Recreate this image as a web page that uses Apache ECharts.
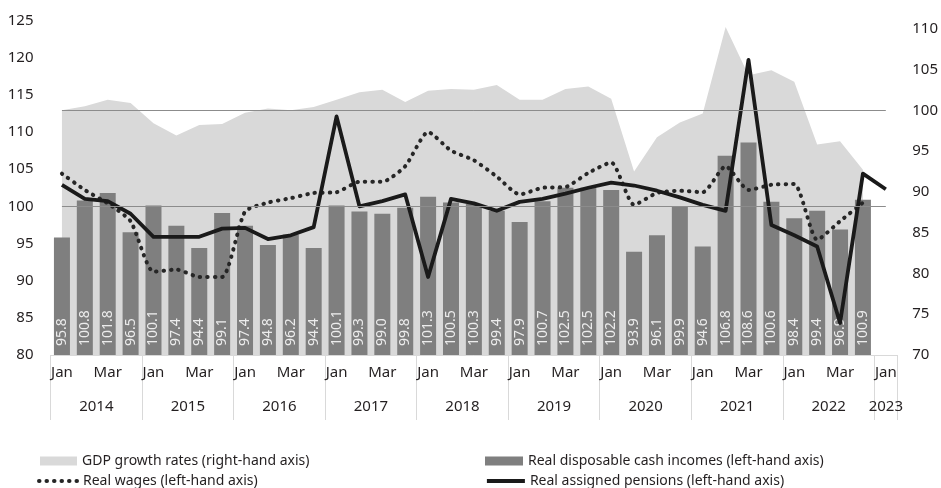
<!DOCTYPE html>
<html>
<head>
<meta charset="utf-8">
<script src="https://cdn.jsdelivr.net/npm/echarts@6/dist/echarts.min.js"></script>
<style>
  html, body { margin: 0; padding: 0; background: #fff; }
  #chart { width: 941px; height: 488px; }
</style>
</head>
<body>
<div id="chart"></div>
<script>
// quarters 2014 Q1 .. 2023 Q1
var years = ['2014', '2015', '2016', '2017', '2018', '2019', '2020', '2021', '2022', '2023'];
var quarterNames = ['Jan', '', 'Mar', ''];

// real disposable cash incomes, % (left axis)
var incomes = [
  95.8, 100.8, 101.8, 96.5,
  100.1, 97.4, 94.4, 99.1,
  97.4, 94.8, 96.2, 94.4,
  100.1, 99.3, 99.0, 99.8,
  101.3, 100.5, 100.3, 99.4,
  97.9, 100.7, 102.5, 102.5,
  102.2, 93.9, 96.1, 99.9,
  94.6, 106.8, 108.6, 100.6,
  98.4, 99.4, 96.9, 100.9,
  null
];

// GDP growth rates, % (right axis)
var gdp = [
  100.0, 100.5, 101.3, 100.9,
  98.4, 96.9, 98.2, 98.3,
  99.7, 100.2, 100.0, 100.4,
  101.3, 102.2, 102.5, 101.0,
  102.4, 102.6, 102.5, 103.1,
  101.3, 101.3, 102.6, 102.9,
  101.4, 92.5, 96.7, 98.5,
  99.6, 110.2, 104.3, 104.9,
  103.5, 95.8, 96.2, 92.7,
  null
];

// real wages, % (left axis)
var wages = [
  104.4, 102.2, 100.4, 98.0,
  91.2, 91.5, 90.5, 90.5,
  99.3, 100.5, 101.1, 101.8,
  101.9, 103.3, 103.3, 105.4,
  110.0, 107.5, 106.2, 104.0,
  101.6, 102.5, 102.6, 104.5,
  105.9, 100.2, 101.8, 102.1,
  101.9, 105.4, 102.2, 102.9,
  103.0, 95.5, 98.0, 100.5,
  null
];

// real assigned pensions, % (left axis)
var pensions = [
  102.9, 101.0, 100.7, 99.0,
  95.9, 95.9, 95.9, 97.0,
  97.1, 95.6, 96.1, 97.2,
  112.1, 100.0, 100.7, 101.6,
  90.5, 101.0, 100.4, 99.4,
  100.6, 101.0, 101.7, 102.5,
  103.2, 102.8, 102.1, 101.2,
  100.2, 99.4, 119.7, 97.5,
  96.1, 94.6, 84.3, 104.4,
  102.3
];

var leftAxis = { min: 80, max: 125, interval: 5 };
var rightAxis = { min: 70, max: 111, interval: 5 };

var monthLabels = incomes.map(function (v, i) { return quarterNames[i % 4]; });
var yearLabels = incomes.map(function (v, i) {
  if (i === incomes.length - 1) return years[years.length - 1];
  return i % 4 === 1 ? years[Math.floor(i / 4)] : '';
});

var FONT = "'Noto Sans', sans-serif";
var TXT = '#231f20';
var dotStyle = { color: '#262626', width: 4, type: [0.5, 7], cap: 'round' };
var solidStyle = { color: '#1a1a1a', width: 3.8, join: 'round' };

var myChart = echarts.init(document.getElementById('chart'));

function legendAt(name, left, top, icon, w, lineStyle) {
  var lg = {
    data: [icon ? { name: name, icon: icon } : name],
    left: left,
    top: top,
    padding: 0,
    itemWidth: w,
    itemHeight: icon ? 9 : 14,
    selectedMode: false,
    textStyle: { fontFamily: FONT, fontSize: 14, color: TXT }
  };
  if (lineStyle) {
    lg.itemStyle = { opacity: 0 };
    lg.lineStyle = lineStyle;
  }
  return lg;
}

var option = {
  animation: false,
  grid: { left: 50.5, right: 41.5, top: 20.5, bottom: 133 },
  legend: [
    legendAt('GDP growth rates (right-hand axis)', 40, 454, 'rect', 37),
    legendAt('Real disposable cash incomes (left-hand axis)', 485, 454, 'rect', 38),
    legendAt('Real wages (left-hand axis)', 37, 474, null, 39, dotStyle),
    legendAt('Real assigned pensions (left-hand axis)', 485, 474, null, 38, solidStyle)
  ],
  xAxis: [
    {
      type: 'category',
      data: monthLabels,
      boundaryGap: true,
      axisLine: { lineStyle: { color: '#d9d9d9', width: 1 } },
      axisTick: {
        show: true,
        length: 65,
        interval: function (i) { return i % 4 === 0; },
        lineStyle: { color: '#d9d9d9', width: 1 }
      },
      axisLabel: { interval: 0, margin: 10, fontFamily: FONT, fontSize: 15, color: TXT }
    },
    {
      type: 'category',
      data: yearLabels,
      position: 'bottom',
      offset: 35,
      axisLine: { show: false },
      axisTick: { show: false },
      axisLabel: {
        interval: 0,
        margin: 9,
        fontFamily: FONT,
        fontSize: 15,
        color: TXT,
        formatter: function (v, i) {
          if (!v) return '';
          return i === yearLabels.length - 1 ? '{e|' + v + '}' : '{g|' + v + '}';
        },
        rich: {
          g: { fontFamily: FONT, fontSize: 15, color: TXT, padding: [0, 0, 0, 23] },
          e: { fontFamily: FONT, fontSize: 15, color: TXT }
        }
      }
    }
  ],
  yAxis: [
    {
      type: 'value',
      min: leftAxis.min,
      max: leftAxis.max,
      interval: leftAxis.interval,
      splitLine: { show: false },
      axisLine: { show: false },
      axisTick: { show: false },
      axisLabel: { margin: 17, fontFamily: FONT, fontSize: 15, color: TXT }
    },
    {
      type: 'value',
      min: rightAxis.min,
      max: rightAxis.max,
      interval: rightAxis.interval,
      position: 'right',
      splitLine: { show: false },
      axisLine: { show: false },
      axisTick: { show: false },
      axisLabel: {
        margin: 15,
        fontFamily: FONT,
        fontSize: 15,
        color: TXT,
        formatter: function (v) { return v % 5 === 0 ? String(v) : ''; }
      }
    }
  ],
  series: [
    {
      name: 'GDP growth rates (right-hand axis)',
      type: 'line',
      yAxisIndex: 1,
      data: gdp,
      symbol: 'none',
      z: 1,
      itemStyle: { color: '#d9d9d9' },
      lineStyle: { width: 0, color: '#d9d9d9' },
      areaStyle: { color: '#d9d9d9', opacity: 1 },
      markLine: {
        silent: true,
        symbol: 'none',
        label: { show: false },
        lineStyle: { color: '#8c8c8c', width: 1, type: 'solid' },
        data: [[{ coord: [0, 100] }, { coord: [incomes.length - 1, 100] }]]
      }
    },
    {
      name: 'Real disposable cash incomes (left-hand axis)',
      type: 'bar',
      yAxisIndex: 0,
      data: incomes,
      barWidth: 16,
      z: 2,
      itemStyle: { color: '#7f7f7f' },
      label: {
        show: true,
        position: 'insideBottom',
        distance: 9,
        rotate: 90,
        align: 'left',
        verticalAlign: 'middle',
        fontFamily: FONT,
        fontSize: 14,
        color: '#ececec',
        formatter: function (p) { return p.value.toFixed(1); }
      },
      markLine: {
        silent: true,
        symbol: 'none',
        label: { show: false },
        lineStyle: { color: '#8c8c8c', width: 1, type: 'solid' },
        data: [[{ coord: [0, 100] }, { coord: [incomes.length - 1, 100] }]]
      }
    },
    {
      name: 'Real wages (left-hand axis)',
      type: 'line',
      yAxisIndex: 0,
      data: wages,
      symbol: 'none',
      smooth: 0.2,
      z: 3,
      itemStyle: { color: '#262626' },
      lineStyle: dotStyle
    },
    {
      name: 'Real assigned pensions (left-hand axis)',
      type: 'line',
      yAxisIndex: 0,
      data: pensions,
      symbol: 'none',
      z: 4,
      itemStyle: { color: '#1a1a1a' },
      lineStyle: solidStyle
    }
  ]
};

myChart.setOption(option);
</script>
</body>
</html>
